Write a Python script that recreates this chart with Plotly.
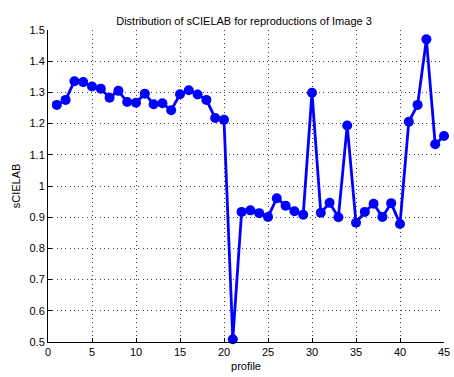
import plotly.graph_objects as go

# sCIELAB error for each reproduction profile of Image 3
profile = list(range(1, 46))
scielab = [
    1.260, 1.276, 1.336, 1.333, 1.319, 1.312, 1.283, 1.305, 1.269, 1.267,
    1.296, 1.262, 1.265, 1.243, 1.294, 1.307, 1.293, 1.276, 1.218, 1.212,
    0.509, 0.917, 0.922, 0.913, 0.901, 0.961, 0.937, 0.919, 0.908, 1.299,
    0.914, 0.946, 0.900, 1.194, 0.882, 0.917, 0.943, 0.901, 0.945, 0.878,
    1.206, 1.260, 1.470, 1.134, 1.160,
]

x_ticks = list(range(0, 50, 5))
y_ticks = [0.5, 0.6, 0.7, 0.8, 0.9, 1.0, 1.1, 1.2, 1.3, 1.4, 1.5]
y_tick_text = ["0.5", "0.6", "0.7", "0.8", "0.9", "1", "1.1", "1.2", "1.3", "1.4", "1.5"]

font = dict(family="Liberation Sans, Arial, sans-serif", size=11, color="black")

fig = go.Figure(
    go.Scatter(
        x=profile,
        y=scielab,
        mode="lines+markers",
        line=dict(color="#0000FF", width=2.8),
        marker=dict(color="#0000FF", size=10),
        cliponaxis=False,
    )
)

axis_common = dict(
    showgrid=True,
    gridcolor="#444444",
    griddash="1px,3.3px",
    gridwidth=1,
    showline=True,
    linecolor="black",
    linewidth=1,
    ticks="inside",
    ticklen=4,
    tickcolor="black",
    zeroline=False,
    tickfont=font,
    mirror=False,
    automargin=False,
)

fig.update_layout(
    width=454,
    height=377,
    margin=dict(l=48, r=10, t=30, b=35),
    paper_bgcolor="white",
    plot_bgcolor="white",
    showlegend=False,
    font=font,
    title=dict(
        text="Distribution of sCIELAB for reproductions of Image 3",
        x=0.5375,
        xanchor="center",
        y=0.945,
        yanchor="middle",
        font=font,
    ),
    xaxis=dict(
        range=[0, 45],
        tickvals=x_ticks,
        title=dict(text="profile", font=font, standoff=5),
        **axis_common,
    ),
    yaxis=dict(
        range=[0.5, 1.5],
        tickvals=y_ticks,
        ticktext=y_tick_text,
        title=dict(text="sCIELAB", font=font, standoff=6),
        **axis_common,
    ),
)

fig.write_html("out.html")
